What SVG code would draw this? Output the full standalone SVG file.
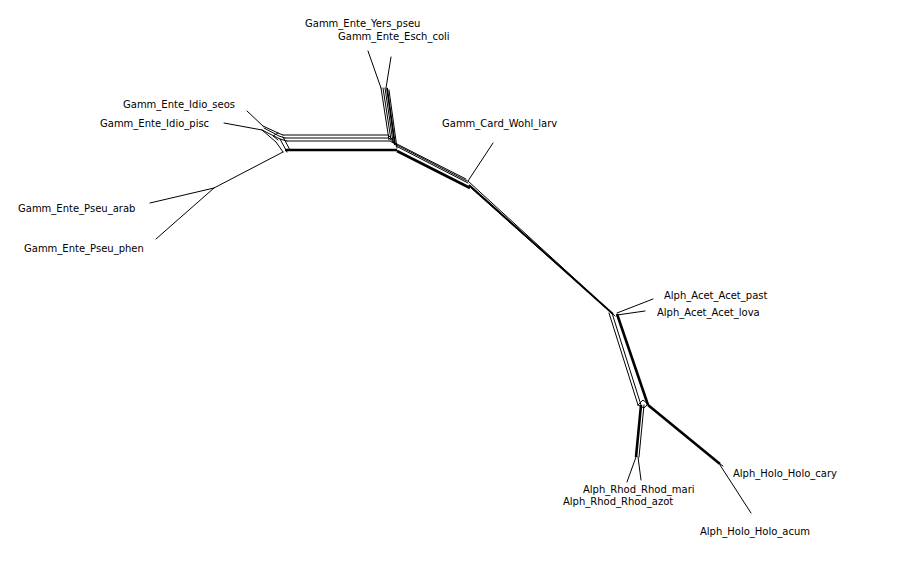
<svg xmlns="http://www.w3.org/2000/svg" width="900" height="563" viewBox="0 0 900 563">
<style>
.e{fill:none;stroke:#000;stroke-width:1;stroke-linejoin:round;stroke-linecap:round}
.t{fill:none;stroke:#000;stroke-width:2.6;stroke-linejoin:round}
.m{fill:none;stroke:#000;stroke-width:1.8;stroke-linejoin:round}
text{font-family:"DejaVu Sans",sans-serif;font-size:10px;fill:#000}
</style>
<rect width="900" height="563" fill="#fff"/>
<g id="connectors">
<line class="e" x1="150" y1="203" x2="214" y2="188"/>
<line class="e" x1="156" y1="239" x2="214" y2="188"/>
<line class="e" x1="214" y1="188" x2="283" y2="152"/>
<line class="e" x1="247" y1="111" x2="263" y2="126"/>
<line class="e" x1="224" y1="123" x2="262" y2="130"/>
<line class="e" x1="368" y1="51" x2="381" y2="88"/>
<line class="e" x1="391" y1="57" x2="386" y2="88"/>
<line class="e" x1="493" y1="143" x2="468" y2="181"/>
<line class="e" x1="653" y1="299" x2="617" y2="313"/>
<line class="e" x1="645" y1="311" x2="617" y2="315"/>
<line class="e" x1="641" y1="480" x2="638" y2="457"/>
<line class="e" x1="627" y1="482" x2="636" y2="457"/>
<line class="e" x1="723" y1="466" x2="720" y2="464"/>
<line class="e" x1="751" y1="513" x2="720" y2="465"/>
<polyline class="e" points="263,126 278,133 283,135"/>
<polyline class="e" points="264,128 279,136 285,138"/>
<polyline class="e" points="262,130 280,139 287,141"/>
<polyline class="e" points="262,130 276,142 283,152"/>
<polyline class="e" points="278,133 273,136 278,140"/>
<line class="e" x1="283" y1="137" x2="290" y2="150"/>
<line class="e" x1="280" y1="139" x2="287" y2="152"/>
<polyline class="e" points="283,135 388,135 393,140"/>
<polyline class="e" points="285,138 389,138 394,142"/>
<polyline class="e" points="287,141 390,141 395,144"/>
<line class="t" x1="285" y1="150" x2="397" y2="150"/>
<line class="e" x1="381" y1="88" x2="389" y2="140"/>
<line class="e" x1="383" y1="88" x2="391" y2="140"/>
<line class="e" x1="385" y1="88" x2="393" y2="142"/>
<line class="m" x1="387" y1="88" x2="395" y2="145"/>
<line class="e" x1="389" y1="90" x2="397" y2="148"/>
<line class="e" x1="393" y1="142" x2="466" y2="179"/>
<line class="e" x1="395" y1="144" x2="467" y2="181"/>
<line class="e" x1="396" y1="146" x2="468" y2="183"/>
<line class="t" x1="397" y1="151" x2="470" y2="188"/>
<line class="e" x1="468" y1="181" x2="611" y2="312"/>
<line class="m" x1="469" y1="185" x2="613" y2="314"/>
<line class="e" x1="471" y1="188" x2="615" y2="316"/>
<line class="e" x1="609" y1="313" x2="638" y2="405"/>
<line class="e" x1="612" y1="313" x2="641" y2="405"/>
<line class="t" x1="617" y1="314" x2="648" y2="405"/>
<polyline class="e" points="638,405 643,400 648,404 644,408 638,405"/>
<line class="t" x1="641" y1="405" x2="636" y2="457"/>
<line class="e" x1="644" y1="405" x2="639" y2="457"/>
<line class="t" x1="648" y1="405" x2="720" y2="464"/>
</g>
<g id="n_yers"><text x="305" y="27">Gamm_Ente_Yers_pseu</text></g>
<g id="n_esch"><text x="338" y="40">Gamm_Ente_Esch_coli</text></g>
<g id="n_seos"><text x="123" y="108">Gamm_Ente_Idio_seos</text></g>
<g id="n_pisc"><text x="100" y="127">Gamm_Ente_Idio_pisc</text></g>
<g id="n_wohl"><text x="442" y="127">Gamm_Card_Wohl_larv</text></g>
<g id="n_arab"><text x="18" y="212">Gamm_Ente_Pseu_arab</text></g>
<g id="n_phen"><text x="24" y="252">Gamm_Ente_Pseu_phen</text></g>
<g id="n_past"><text x="664" y="299">Alph_Acet_Acet_past</text></g>
<g id="n_lova"><text x="657" y="316">Alph_Acet_Acet_lova</text></g>
<g id="n_mari"><text x="583" y="493">Alph_Rhod_Rhod_mari</text></g>
<g id="n_azot"><text x="563" y="505">Alph_Rhod_Rhod_azot</text></g>
<g id="n_cary"><text x="733" y="477">Alph_Holo_Holo_cary</text></g>
<g id="n_acum"><text x="700" y="535">Alph_Holo_Holo_acum</text></g>
</svg>
